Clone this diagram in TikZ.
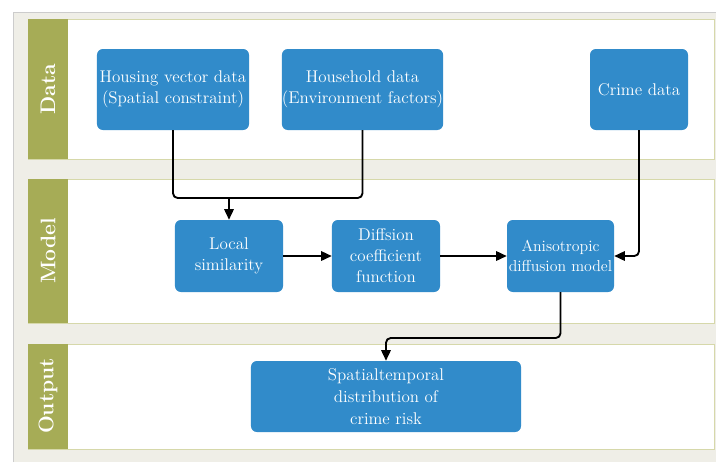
\documentclass[tikz,border=0pt]{standalone}
\usetikzlibrary{arrows.meta}

\definecolor{boxblue}{RGB}{49,139,202}
\definecolor{laneolive}{RGB}{166,172,86}
\definecolor{lanegrey}{RGB}{239,238,231}
\definecolor{laneline}{RGB}{214,216,170}

\tikzset{
	block/.style={rounded corners=5pt, fill=boxblue, text=white, align=center, inner sep=0pt, font=\fontsize{14.5}{18}\selectfont},
	flow/.style={draw=black, line width=1.6pt, rounded corners=4pt},
	flowarrow/.style={flow, -{Triangle[length=9pt,width=8pt]}},
	lanelabel/.style={rotate=90, text=white, font=\fontsize{18}{20}\selectfont\bfseries},
	lanebox/.style={fill=white, draw=laneline, line width=0.6pt},
}

\begin{document}
\begin{tikzpicture}[x=0.03cm, y=-0.03cm]

	\useasboundingbox (0,0) rectangle (716,462);

	%%% Background
	\fill[lanegrey] (13,12) rectangle (716,462);
	\draw[black!20, line width=0.8pt] (13,462) -- (13,12) -- (716,12);

	%%% Lanes
	\draw[lanebox] (28,19) rectangle (714,159);
	\draw[lanebox] (28,179) rectangle (714,323);
	\draw[lanebox] (28,344) rectangle (714,449);
	\fill[laneolive] (28,19) rectangle (68,159);
	\fill[laneolive] (28,179) rectangle (68,323);
	\fill[laneolive] (28,344) rectangle (68,449);
	\node[lanelabel] (lane_data) at (48,89) {Data};
	\node[lanelabel] (lane_model) at (48,251) {Model};
	\node[lanelabel] (lane_output) at (48,396) {Output};

	%%% Data
	\node[block, minimum width=4.56cm, minimum height=2.43cm] (housing) at (173,89.5) {Housing vector data\\(Spatial constraint)};
	\node[block, minimum width=4.83cm, minimum height=2.43cm] (household) at (362.5,89.5) {Household data\\(Environment factors)};
	\node[block, minimum width=2.94cm, minimum height=2.43cm] (crime) at (639,89.5) {Crime data};

	%%% Model
	\node[block, minimum width=3.24cm, minimum height=2.16cm] (local) at (229,256) {Local\\similarity};
	\node[block, minimum width=3.24cm, minimum height=2.16cm] (diffusion) at (386,256) {Diffsion\\coefficient\\function};
	\node[block, minimum width=3.21cm, minimum height=2.16cm, font=\fontsize{13.5}{17}\selectfont] (aniso) at (560.5,256) {Anisotropic\\diffusion model};

	%%% Output
	\node[block, minimum width=8.1cm, minimum height=2.13cm, font=\fontsize{14.5}{19}\selectfont] (output) at (386,396.5) {Spatialtemporal\\distribution of\\crime risk};

	%%% Connections
	\coordinate (local_join) at (229,198);
	\draw[flow] (housing) |- (local_join);
	\draw[flow] (household) |- (local_join);
	\draw[flowarrow, rounded corners=0pt] (local_join) -- (local);

	\draw[flowarrow] (local) -- (diffusion);
	\draw[flowarrow] (diffusion) -- (aniso);
	\draw[flowarrow] (crime) |- (aniso);

	\coordinate (output_turn) at (473,338);
	\draw[flowarrow] (aniso) |- (output_turn) -| (output);

\end{tikzpicture}
\end{document}
